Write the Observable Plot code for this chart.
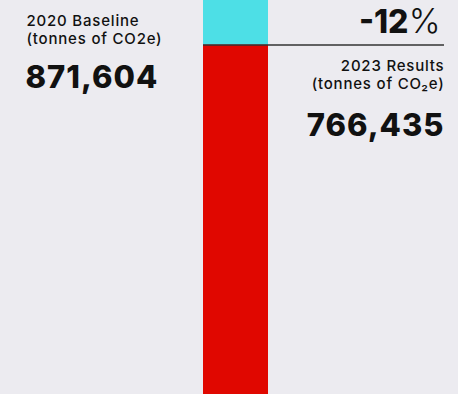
<!DOCTYPE html>
<html><head><meta charset="utf-8">
<script src="https://cdn.jsdelivr.net/npm/d3@7"></script>
<script src="https://cdn.jsdelivr.net/npm/@observablehq/plot@0.6"></script>
<style>
html,body{margin:0;padding:0;background:#ecebf0;}
svg{display:block;}
</style>
</head><body>
<div id="chart"></div>
<script>
const baseline = 871604;
const results = 766435;
const segments = ["2023 Results", "Reduction"];
const segmentValues = [results, baseline - results];
const segmentColors = ["#e00700", "#4ddfe6"];
const changeLabel = "-12";

const data = segments.map((s, i) => ({bar: "emissions", segment: s, value: segmentValues[i]}));
const fmt = d3.format(",");
const font = "Inter, 'DejaVu Sans', sans-serif";
const ink = "#111";

const chart = Plot.plot({
  width: 458, height: 394,
  margin: 0,
  style: {background: "#ecebf0", fontFamily: font, color: ink},
  x: {type: "band", domain: ["emissions"], range: [203, 268], padding: 0, axis: null},
  y: {domain: [0, baseline], range: [394, -3.5], axis: null},
  color: {domain: segments, range: segmentColors},
  marks: [
    Plot.barY(data, {x: "bar", y: "value", fill: "segment", order: segments}),
    Plot.ruleY([results], {stroke: "#333", strokeWidth: 1.5, insetLeft: 203, insetRight: 14}),
    // left block
    Plot.text(["2020 Baseline"], {text: d => d, frameAnchor: "top-left", textAnchor: "start", lineAnchor: "bottom", dx: 26, dy: 25, fontSize: 15, fontWeight: 500, fill: ink}),
    Plot.text(["(tonnes of CO2e)"], {text: d => d, frameAnchor: "top-left", textAnchor: "start", lineAnchor: "bottom", dx: 26, dy: 43, fontSize: 15, fontWeight: 500, fill: ink}),
    Plot.text([baseline], {text: d => fmt(d), frameAnchor: "top-left", textAnchor: "start", lineAnchor: "bottom", dx: 25, dy: 87, fontSize: 31, fontWeight: 800, fill: ink}),
    // right block
    Plot.text(["%"], {text: d => d, frameAnchor: "top-right", textAnchor: "end", lineAnchor: "bottom", dx: -18, dy: 32, fontSize: 34, fontWeight: 300, fill: ink}),
    Plot.text([changeLabel], {text: d => d, frameAnchor: "top-right", textAnchor: "end", lineAnchor: "bottom", dx: -50, dy: 32, fontSize: 32, fontWeight: 800, fill: ink}),
    Plot.text(["2023 Results"], {text: d => d, frameAnchor: "top-right", textAnchor: "end", lineAnchor: "bottom", dx: -14, dy: 70, fontSize: 15, fontWeight: 500, fill: ink}),
    Plot.text(["(tonnes of CO₂e)"], {text: d => d, frameAnchor: "top-right", textAnchor: "end", lineAnchor: "bottom", dx: -14, dy: 88, fontSize: 15, fontWeight: 500, fill: ink}),
    Plot.text([results], {text: d => fmt(d), frameAnchor: "top-right", textAnchor: "end", lineAnchor: "bottom", dx: -14, dy: 135, fontSize: 31, fontWeight: 800, fill: ink})
  ]
});
// letter spacing per text size (Plot.text has no letterSpacing option)
chart.querySelectorAll('g[aria-label="text"]').forEach(g => {
  const fs = +g.getAttribute("font-size");
  g.setAttribute("letter-spacing", fs < 20 ? "0.8px" : fs < 32 ? "1px" : "0px");
});
document.getElementById("chart").appendChild(chart);
</script>
</body></html>
